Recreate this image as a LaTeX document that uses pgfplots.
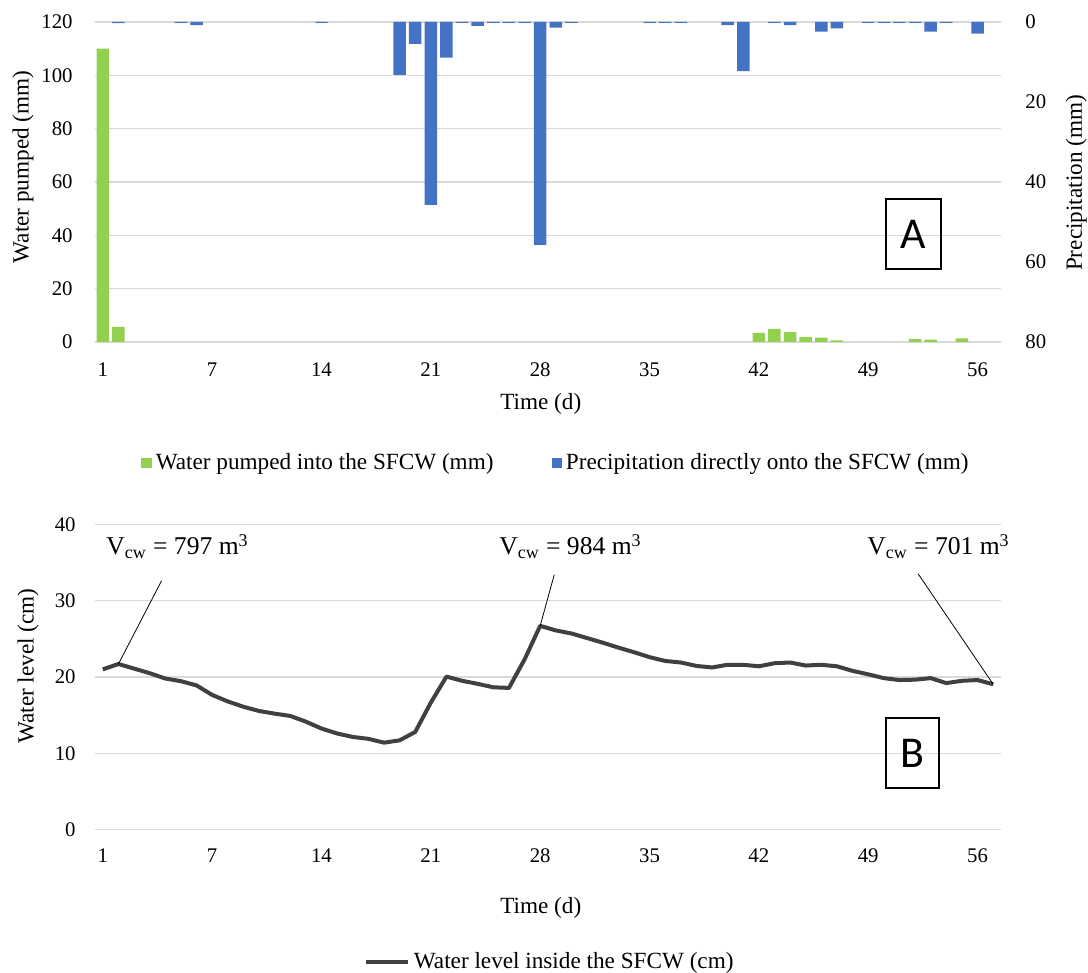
\documentclass[border=0pt]{standalone}
\usepackage{fontspec}
\setmainfont{Liberation Serif}
\newfontfamily\boxfont{Carlito}
\usepackage{pgfplots}
\pgfplotsset{compat=1.18}
\definecolor{cgreen}{HTML}{92D050}
\definecolor{cblue}{HTML}{4472C4}
\definecolor{cline}{HTML}{404040}
\definecolor{cgrid}{HTML}{D9D9D9}
\newcommand{\tickfont}{\fontsize{10.4}{12}\selectfont}
\newcommand{\labfont}{\fontsize{11.6}{13}\selectfont}
\pgfplotsset{
  base/.style={
    scale only axis, width=453pt,
    xmin=-0.5, xmax=57.5,
    major tick length=0pt,
    axis line style={draw=none},
    tick label style={font=\tickfont},
    /pgf/number format/assume math mode=true,
    label style={font=\labfont},
  },
}
\begin{document}
\begin{tikzpicture}[x=1pt,y=1pt]
\path[use as bounding box] (0,0) rectangle (544,486.5);
% ---------- Top chart: primary axis (water pumped) ----------
\begin{axis}[base,
  at={(47.5pt,315.5pt)}, anchor=south west, height=160pt,
  ymin=0, ymax=120, ytick={0,20,...,120},
  xtick={0,7,...,56}, xticklabels={1,7,14,21,28,35,42,49,56},
  ymajorgrids, grid style={cgrid, line width=0.75pt},
  yticklabel style={inner sep=0pt, xshift=-11pt},
  xticklabel style={inner sep=0pt, yshift=-10pt},
  xlabel={Time (d)},
  xlabel style={at={(axis description cs:0.492,-0.194)}, anchor=center},
  ylabel={Water pumped (mm)},
  ylabel style={at={(axis description cs:-0.0795,0.547)}, anchor=center},
]
\addplot[ybar, bar width=0.8, fill=cgreen, draw=none] coordinates {
(0,110) (1,5.7) (42,3.4) (43,4.9) (44,3.7) (45,1.9) (46,1.6) (47,0.6)
(52,1.1) (53,0.9) (55,1.4)};
\end{axis}
% ---------- Top chart: secondary axis (precipitation) ----------
\begin{axis}[base,
  at={(47.5pt,315.5pt)}, anchor=south west, height=160pt,
  axis y line*=right, y dir=reverse,
  ymin=0, ymax=80, ytick={0,20,...,80},
  xtick=\empty,
  yticklabel style={inner sep=0pt, xshift=12pt},
  ylabel={Precipitation (mm)},
  ylabel style={at={(axis description cs:1.083,0.497)}, anchor=center},
  legend columns=2,
  legend style={at={(axis description cs:0.51,-0.378)}, anchor=center, draw=none,
    font=\labfont, inner sep=0pt,
    cells={anchor=west},
    /tikz/every even column/.append style={column sep=27pt}},
  legend image code/.code={\fill[#1,draw=none] (0pt,-2.6pt) rectangle (5.2pt,2.6pt);},
]
\addlegendimage{fill=cgreen, draw=none}
\addlegendentry{Water pumped into the SFCW (mm)}
\addplot[ybar, bar width=0.8, fill=cblue, draw=none] coordinates {
(1,0.3) (5,0.2) (6,0.8) (14,0.2) (19,13.2) (20,5.5) (21,45.7) (22,8.9)
(23,0.2) (24,1.0) (25,0.2) (26,0.2) (27,0.2) (28,55.7) (29,1.4) (30,0.2)
(35,0.2) (36,0.2) (37,0.2) (40,0.8) (41,12.3) (43,0.2) (44,0.8) (46,2.4)
(47,1.6) (49,0.2) (50,0.2) (51,0.2) (52,0.2) (53,2.4) (54,0.2) (56,2.9)};
\addlegendentry{Precipitation directly onto the SFCW (mm)}
\end{axis}
\node[draw, line width=0.75pt, minimum width=27.5pt, minimum height=35pt, inner sep=0pt,
  font=\boxfont\fontsize{22}{26}\selectfont] at (456.75,369.5) {A};
% ---------- Bottom chart: water level ----------
\begin{axis}[base,
  at={(47.5pt,71.65pt)}, anchor=south west, height=152.7pt,
  ymin=0, ymax=40, ytick={0,10,...,40},
  xtick={0,7,...,56}, xticklabels={1,7,14,21,28,35,42,49,56},
  ymajorgrids, grid style={cgrid, line width=0.75pt},
  yticklabel style={inner sep=0pt, xshift=-9.5pt},
  xticklabel style={inner sep=0pt, yshift=-9.5pt},
  xlabel={Time (d)},
  xlabel style={at={(axis description cs:0.492,-0.256)}, anchor=center},
  ylabel={Water level (cm)},
  ylabel style={at={(axis description cs:-0.074,0.536)}, anchor=center},
  legend style={at={(axis description cs:0.503,-0.434)}, anchor=center, draw=none,
    font=\labfont, inner sep=0pt, cells={anchor=west}},
  legend image code/.code={\draw[#1] (0pt,0pt) -- (21pt,0pt);},
]
\addplot[cline, line width=2pt, line join=round] coordinates {
(0,21.0) (1,21.7) (2,21.1) (3,20.5) (4,19.8) (5,19.45) (6,18.9) (7,17.65)
(8,16.8) (9,16.1) (10,15.55) (11,15.2) (12,14.9) (13,14.15) (14,13.25) (15,12.6)
(16,12.15) (17,11.9) (18,11.4) (19,11.7) (20,12.8) (21,16.65) (22,20.05) (23,19.5)
(24,19.1) (25,18.65) (26,18.57) (27,22.3) (28,26.7) (29,26.1) (30,25.7) (31,25.1)
(32,24.5) (33,23.85) (34,23.25) (35,22.6) (36,22.1) (37,21.9) (38,21.45) (39,21.25)
(40,21.6) (41,21.6) (42,21.4) (43,21.8) (44,21.9) (45,21.5) (46,21.6) (47,21.4)
(48,20.8) (49,20.35) (50,19.85) (51,19.6) (52,19.65) (53,19.85) (54,19.2) (55,19.5)
(56,19.6) (57,19.05)};
\addlegendentry{Water level inside the SFCW (cm)}
\draw[black, line width=0.4pt] (axis cs:3.76,32.6) -- (axis cs:1,21.7);
\draw[black, line width=0.4pt] (axis cs:28.9,33.4) -- (axis cs:28,26.7);
\draw[black, line width=0.4pt] (axis cs:52.2,33.5) -- (axis cs:57,19.05);
\end{axis}
\begin{scope}[every node/.style={anchor=base west, inner sep=0pt, font=\fontsize{12.8}{15}\selectfont}]
\node at (53,209) {V\textsubscript{cw} = 797 m\textsuperscript{3}};
\node at (249.5,209) {V\textsubscript{cw} = 984 m\textsuperscript{3}};
\node at (433.5,209) {V\textsubscript{cw} = 701 m\textsuperscript{3}};
\end{scope}
\node[draw, line width=0.75pt, minimum width=26.5pt, minimum height=35pt, inner sep=0pt,
  font=\boxfont\fontsize{22}{26}\selectfont] at (456.25,110) {B};
\end{tikzpicture}
\end{document}
